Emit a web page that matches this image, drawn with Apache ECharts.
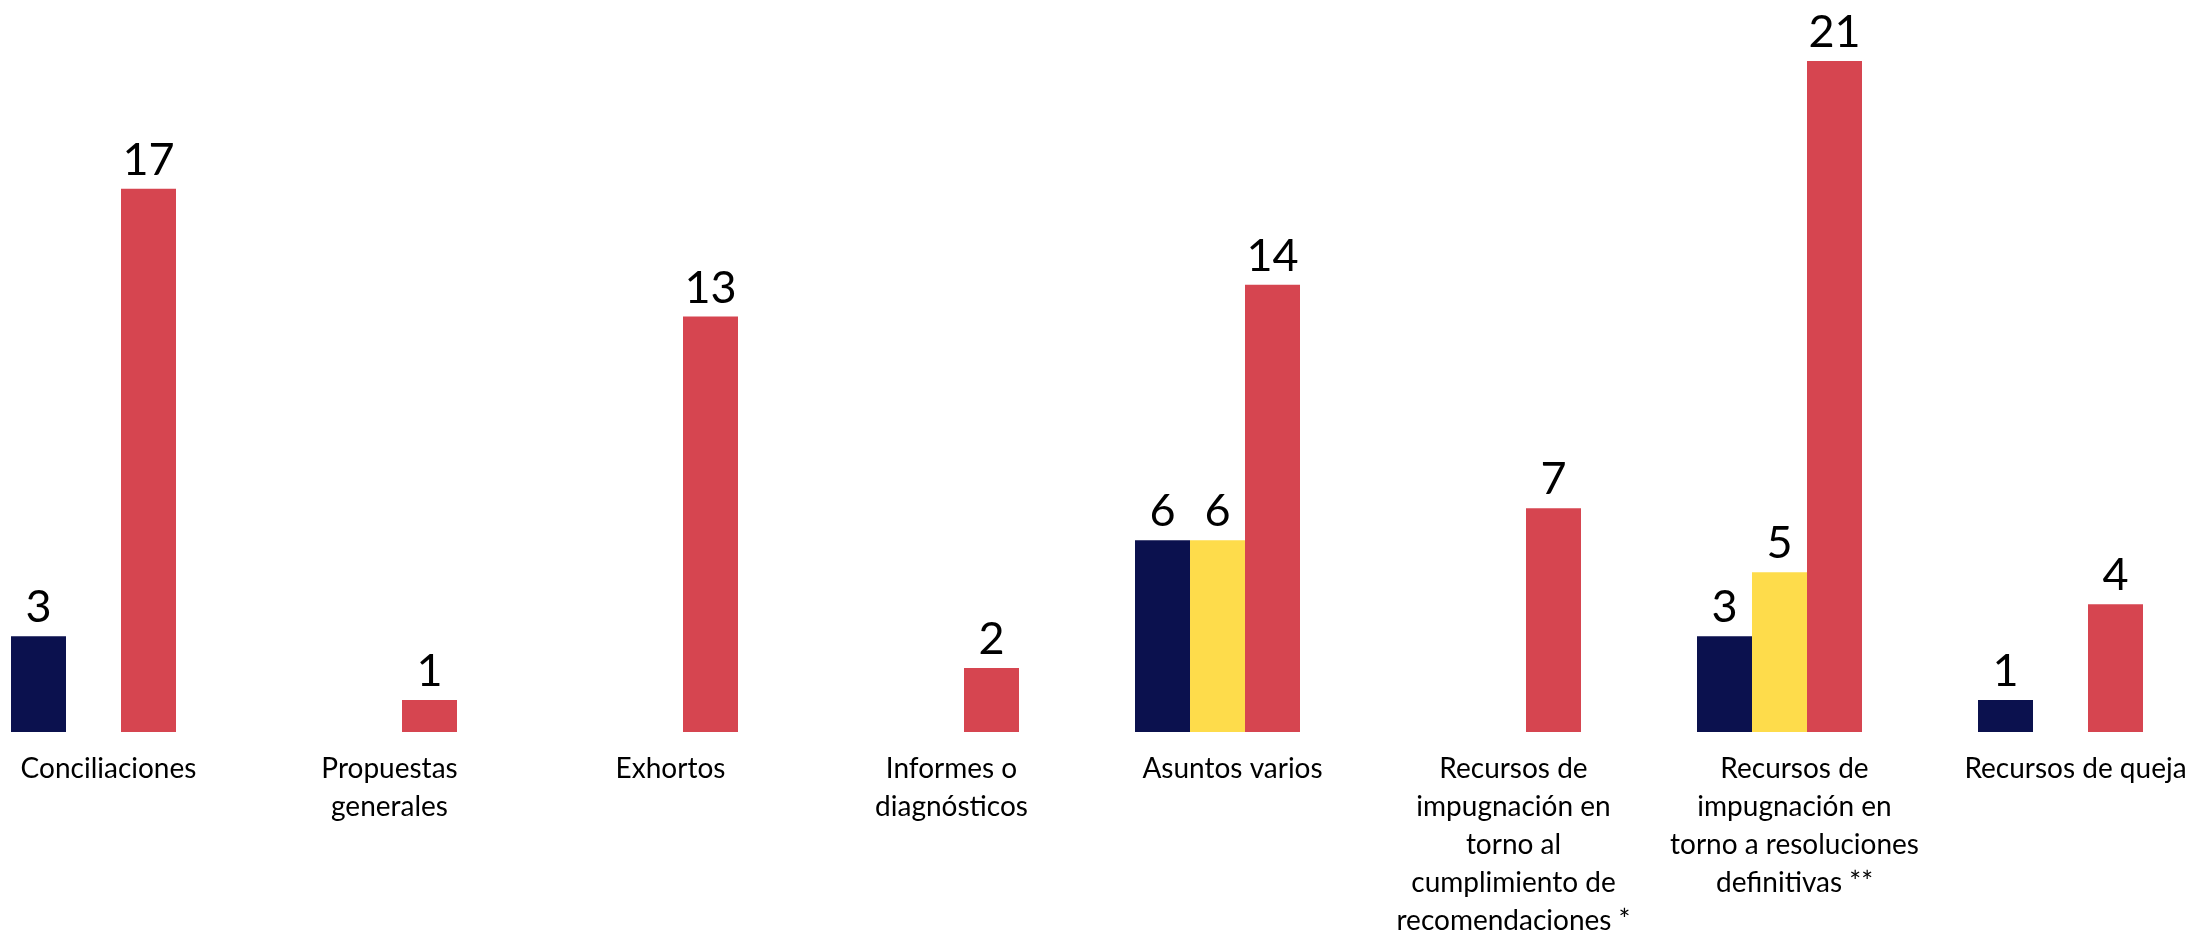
<!DOCTYPE html>
<html>
<head>
<meta charset="utf-8">
<style>
  html, body { margin: 0; padding: 0; background: #ffffff; overflow: hidden; }
  #chart { width: 2194px; height: 931px; }
</style>
<script src="https://cdn.jsdelivr.net/npm/echarts@6/dist/echarts.min.js"></script>
</head>
<body>
<div id="chart"></div>
<script>
const categories = [
  'Conciliaciones',
  'Propuestas\ngenerales',
  'Exhortos',
  'Informes o\ndiagnósticos',
  'Asuntos varios',
  'Recursos de\nimpugnación en\ntorno al\ncumplimiento de\nrecomendaciones *',
  'Recursos de\nimpugnación en\ntorno a resoluciones\ndefinitivas **',
  'Recursos de queja'
];
const seriesNavy = [3, null, null, null, 6, null, 3, 1];
const seriesYellow = [null, null, null, null, 6, null, 5, null];
const seriesRed = [17, 1, 13, 2, 14, 7, 21, 4];

const FONT = 'Lato';
const labelStyle = {
  show: true,
  position: 'top',
  distance: 6,
  fontFamily: FONT,
  fontSize: 45,
  color: '#000000'
};

function mkSeries(name, data, color) {
  return {
    name: name,
    type: 'bar',
    data: data,
    barWidth: 55,
    barGap: '0%',
    itemStyle: { color: color },
    label: labelStyle,
    silent: true
  };
}

const chart = echarts.init(document.getElementById('chart'));
chart.setOption({
  animation: false,
  backgroundColor: '#ffffff',
  grid: {
    left: -47, right: -7, top: 61, bottom: 199,
    containLabel: false,
    outerBoundsMode: 'none'
  },
  xAxis: {
    type: 'category',
    data: categories,
    axisLine: { show: false },
    axisTick: { show: false },
    axisLabel: {
      interval: 0,
      margin: 18,
      fontFamily: FONT,
      fontSize: 28,
      lineHeight: 38,
      color: '#000000',
      align: 'center',
      padding: [0, 0, 0, 30]
    }
  },
  yAxis: {
    type: 'value',
    min: 0,
    max: 21,
    show: false,
    splitLine: { show: false }
  },
  series: [
    mkSeries('A', seriesNavy, '#0b114e'),
    mkSeries('B', seriesYellow, '#fedc4b'),
    mkSeries('C', seriesRed, '#d64550')
  ]
});
</script>
</body>
</html>
